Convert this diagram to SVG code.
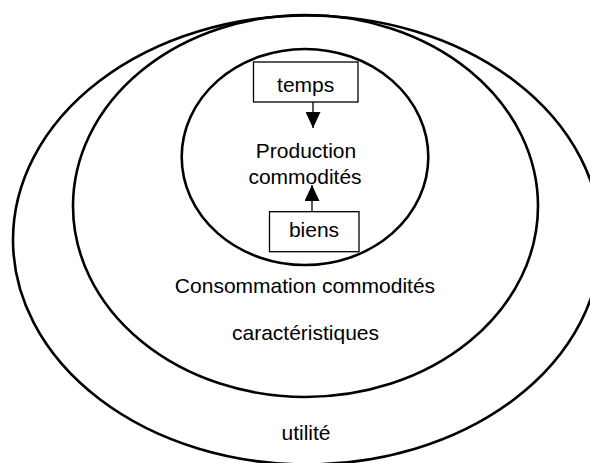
<svg xmlns="http://www.w3.org/2000/svg" width="590" height="463" viewBox="0 0 590 463">
  <style>
    .ring { fill: none; stroke: #000; stroke-width: 2.6; }
    .box { fill: #fff; stroke: #000; stroke-width: 1.3; }
    .lbl { font-family: "Liberation Sans", Arial, sans-serif; font-size: 21px; fill: #000; text-anchor: middle; }
    .conn { stroke: #000; stroke-width: 1.3; fill: none; }
  </style>
  <defs>
    <marker id="arrow" viewBox="0 0 16 15" refX="16" refY="7.5" markerWidth="16" markerHeight="15" markerUnits="userSpaceOnUse" orient="auto">
      <path d="M0,0 L16,7.5 L0,15 Z" fill="#000"/>
    </marker>
  </defs>
  <rect width="590" height="463" fill="#fff"/>
  <g id="utilite">
    <ellipse class="ring" cx="307" cy="240" rx="294" ry="224.5"/>
    <text class="lbl" x="306" y="440">utilité</text>
  </g>
  <g id="consommation">
    <ellipse class="ring" cx="305.5" cy="206" rx="232.5" ry="191"/>
    <text class="lbl" x="305" y="293">Consommation commodités</text>
    <text class="lbl" x="305.5" y="340">caractéristiques</text>
  </g>
  <g id="production">
    <ellipse class="ring" cx="305" cy="157" rx="123.3" ry="108"/>
    <text class="lbl" x="306" y="157.7">Production</text>
    <text class="lbl" x="305" y="184">commodités</text>
  </g>
  <g id="temps">
    <rect class="box" x="253.5" y="62" width="104.5" height="40"/>
    <text class="lbl" x="305.7" y="91.7">temps</text>
  </g>
  <g id="biens">
    <rect class="box" x="269.5" y="211.7" width="89.5" height="40"/>
    <text class="lbl" x="314" y="236.7">biens</text>
  </g>
  <g id="connectors">
    <line class="conn" x1="313" y1="102" x2="313" y2="128" marker-end="url(#arrow)"/>
    <line class="conn" x1="312" y1="211.7" x2="312" y2="185" marker-end="url(#arrow)"/>
  </g>
</svg>
